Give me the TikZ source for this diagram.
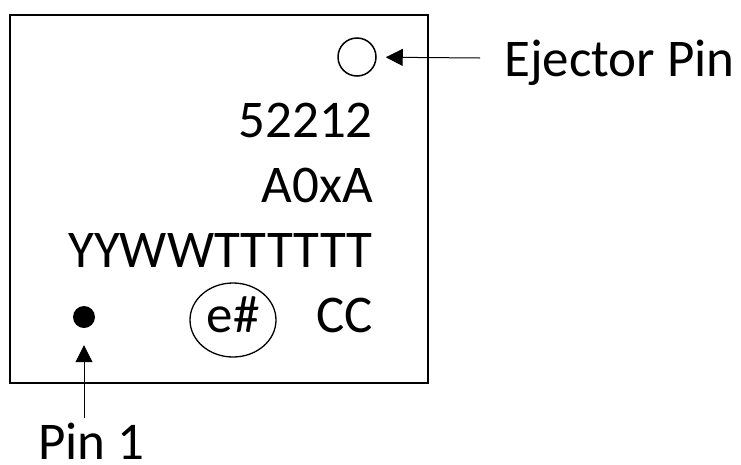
\documentclass[tikz,border=0pt]{standalone}
\usepackage{fontspec}
\setmainfont{Carlito}
\usetikzlibrary{arrows.meta,shapes.geometric}
\begin{document}
\begin{tikzpicture}[x=1pt,y=-1pt,
  lbl/.style={inner sep=0pt,font=\fontsize{53}{60}\selectfont},
  ptr/.style={line width=1pt,-{Triangle[length=17pt,width=17pt]}}]
\useasboundingbox (0,0) rectangle (741,464);
\node[draw,line width=2pt,minimum width=418pt,minimum height=368pt,anchor=north west,inner sep=0pt] (chip) at (9,14) {};
\node[draw,circle,line width=1.5pt,minimum size=38pt,inner sep=0pt] (ej) at (357,57) {};
\node[lbl,anchor=base west] (ejl) at (504,76) {Ejector Pin};
\coordinate (ejs) at (480,58);
\draw[ptr,shorten >=9pt] (ejs) -- (ej);
\node[lbl,anchor=base east] (l1) at (373,137) {52212};
\node[lbl,anchor=base east] (l2) at (373,202) {A0xA};
\node[lbl,anchor=base east] (l3) at (373,267) {YYWWTTTTTT};
\node[lbl,anchor=base east] (l4) at (373,332) {CC};
\node[draw,ellipse,line width=1.3pt,minimum width=86pt,minimum height=74pt,inner sep=0pt] (e) at (233,320) {};
\node[lbl,anchor=base] (et) at (233,332) {e\#};
\node[circle,fill=black,minimum size=22pt,inner sep=0pt] (dot) at (84,317) {};
\coordinate (ps) at (84,418);
\draw[ptr,shorten >=17pt] (ps) -- (dot.south);
\node[lbl,anchor=base west] (pl) at (38,459) {Pin 1};
\end{tikzpicture}
\end{document}
